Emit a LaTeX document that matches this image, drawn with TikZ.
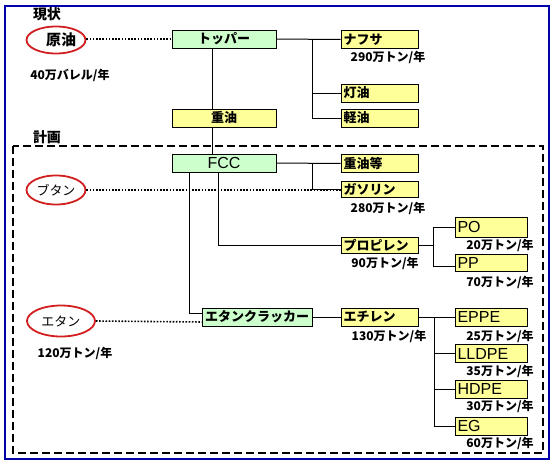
\documentclass[tikz,border=0pt]{standalone}
\usepackage{fontspec}
\setmainfont{Noto Sans CJK JP}
\newfontfamily\latinf{Liberation Sans}
\usetikzlibrary{shapes.geometric,backgrounds}
\definecolor{boxgreen}{RGB}{204,255,204}
\definecolor{boxyellow}{RGB}{255,255,153}
\definecolor{frameblue}{RGB}{0,0,170}
\definecolor{ellred}{RGB}{210,30,30}
\tikzset{
  base/.style={draw=black, line width=0.9pt, inner ysep=0pt, minimum height=18pt, font=\fontsize{13}{13}\selectfont\bfseries},
  greenbox/.style={base, fill=boxgreen, minimum width=104pt, inner xsep=0pt},
  ybox/.style={base, fill=boxyellow, text width=72pt, inner xsep=2.5pt, align=left},
  ybox2/.style={base, fill=boxyellow, text width=67pt, inner xsep=2.5pt, align=left},
  lat/.style={font=\latinf\fontsize{16}{16}\selectfont},
  oval/.style={ellipse, draw=ellred, line width=1.8pt, inner sep=0pt},
  qty/.style={font=\fontsize{12}{12}\selectfont\bfseries, inner sep=0pt},
  conn/.style={line width=1pt},
  dots/.style={line width=1.6pt, dash pattern=on 1.6pt off 1.6pt}
}
\begin{document}
\begin{tikzpicture}[x=1pt,y=-1pt]
\useasboundingbox (0,0) rectangle (555,471);
\draw[frameblue, line width=2pt] (5,6) rectangle (549,459);
\draw[line width=1.8pt, dash pattern=on 8pt off 4pt] (13,146) rectangle (543,453);

\node[font=\fontsize{14}{14}\selectfont\bfseries] (genjo) at (47,14) {現状};
\node[font=\fontsize{14}{14}\selectfont\bfseries] (keikaku) at (47,137) {計画};

% ellipses
\node[oval, minimum width=59pt, minimum height=27pt, font=\fontsize{15}{15}\selectfont\bfseries] (oil) at (56,40) {\hspace*{10pt}原油};
\node[qty] (oilq) at (70,75) {40万バレル/年};
\node[oval, minimum width=59pt, minimum height=29pt, font=\fontsize{13}{13}\selectfont] (butane) at (56,190) {ブタン};
\node[oval, minimum width=68pt, minimum height=31pt, font=\fontsize{13}{13}\selectfont] (ethane) at (61,321) {エタン};
\node[qty] (ethaneq) at (75,353) {120万トン/年};

% center column
\node[greenbox] (topper) at (224,39) {トッパー};
\node[greenbox, fill=boxyellow] (heavy) at (224,118) {重油};
\node[greenbox, font=\latinf\fontsize{16}{16}\selectfont] (fcc) at (224,163) {FCC};
\node[base, fill=boxgreen, minimum width=110pt, inner xsep=2pt] (ecr) at (257,317) {エタンクラッカー};

% right column
\node[ybox] (naph) at (379.5,39.5) {ナフサ};
\node[qty] (naphq) at (388,57) {290万トン/年};
\node[ybox] (kero) at (379.5,93) {灯油};
\node[ybox] (gasoil) at (379.5,118) {軽油};
\node[ybox] (hoil) at (379.5,163.5) {重油等};
\node[ybox, minimum height=16pt] (gasoline) at (379.5,189) {ガソリン};
\node[qty] (gasolineq) at (388,208) {280万トン/年};
\node[ybox, minimum height=16pt] (propy) at (379.5,245) {プロピレン};
\node[qty] (propyq) at (385,263) {90万トン/年};
\node[ybox] (ethy) at (379.5,317) {エチレン};
\node[qty] (ethyq) at (389,336) {130万トン/年};

% product column
\node[ybox2, minimum height=20pt, lat] (po) at (491,227) {PO};
\node[qty] (poq) at (500,245) {20万トン/年};
\node[ybox2, minimum height=17pt, lat] (pp) at (491,262.5) {PP};
\node[qty] (ppq) at (500,282) {70万トン/年};
\node[ybox2, lat] (eppe) at (491,317) {EPPE};
\node[qty] (eppeq) at (500,336) {25万トン/年};
\node[ybox2, lat] (lldpe) at (491,353.5) {LLDPE};
\node[qty] (lldpeq) at (500,371) {35万トン/年};
\node[ybox2, lat] (hdpe) at (491,389) {HDPE};
\node[qty] (hdpeq) at (500,406) {30万トン/年};
\node[ybox2, lat] (eg) at (491,426) {EG};
\node[qty] (egq) at (500,443) {60万トン/年};

\coordinate (j1) at (312,39);
\coordinate (j2) at (312,163.5);
\coordinate (j3) at (433,245);
\coordinate (j4) at (434,317);

\begin{scope}[on background layer]
\draw[conn] ([xshift=-12pt]topper.south) -- ([xshift=-12pt]heavy.north);
\draw[conn] ([xshift=-12pt]heavy.south) -- ([xshift=-12pt]fcc.north);
\draw[conn] (topper.east) -- (naph.west);
\draw[conn] (j1) |- (gasoil.west);
\draw[conn] (j1 |- kero.west) -- (kero.west);
\draw[conn] (fcc.east) -- (hoil.west);
\draw[conn] (j2) |- (gasoline.west);
\draw[conn] ([xshift=-6pt]fcc.south) |- (propy.west);
\draw[conn] ([xshift=-35pt]fcc.south) |- ([yshift=4pt]ecr.west);
\draw[conn] (ecr.east) -- (ethy.west);
\draw[conn] (propy.east) -- (j3);
\draw[conn] (j3 |- po.west) -- (po.west);
\draw[conn] (j3 |- po.west) |- ([yshift=-3.5pt]pp.west);
\draw[conn] (ethy.east) -- (eppe.west);
\draw[conn] (j4) |- (eg.west);
\draw[conn] (j4 |- lldpe.west) -- (lldpe.west);
\draw[conn] (j4 |- hdpe.west) -- (hdpe.west);
\end{scope}

\draw[dots] (oil.east |- topper.west) -- (topper.west);
\draw[dots] (butane.east) -- ([yshift=-1pt]gasoline.west);
\draw[dots] (ethane.east) -- ([yshift=-5pt]ecr.west);
\end{tikzpicture}
\end{document}
